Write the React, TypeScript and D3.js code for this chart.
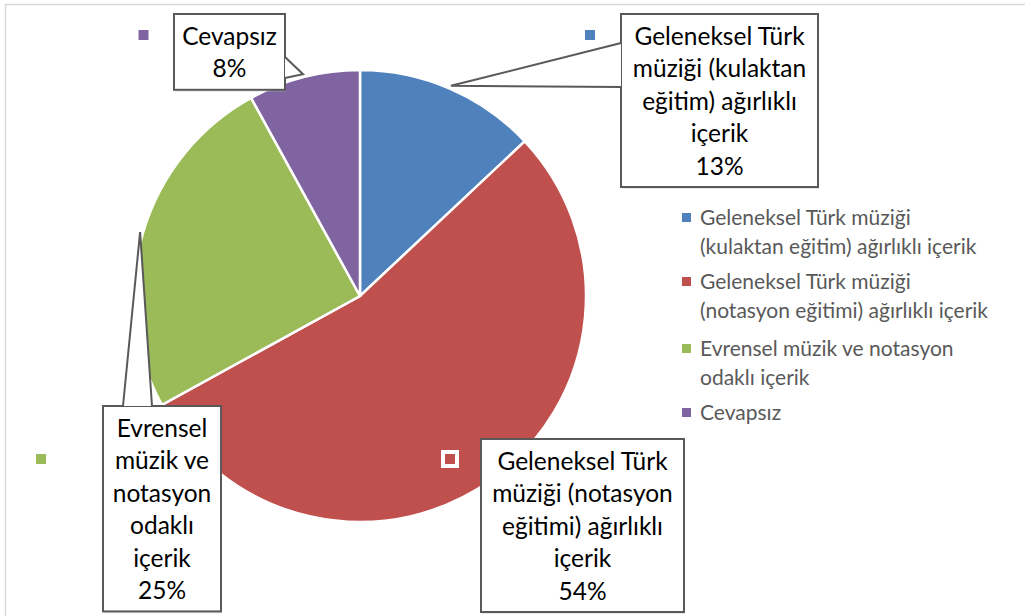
import React from "react";
import * as d3 from "d3";

const width = 1025;
const height = 616;

// pie data
const categories = [
  "Geleneksel Türk müziği (kulaktan eğitim) ağırlıklı içerik",
  "Geleneksel Türk müziği (notasyon eğitimi) ağırlıklı içerik",
  "Evrensel müzik ve notasyon odaklı içerik",
  "Cevapsız",
];
const values = [13, 54, 25, 8];
const colors = ["#4F81BD", "#C0504D", "#9BBB59", "#8064A2"];

// text as it wraps in the callouts and in the legend
const labelLines = [
  ["Geleneksel Türk", "müziği (kulaktan", "eğitim) ağırlıklı", "içerik"],
  ["Geleneksel Türk", "müziği (notasyon", "eğitimi) ağırlıklı", "içerik"],
  ["Evrensel", "müzik ve", "notasyon", "odaklı", "içerik"],
  ["Cevapsız"],
];
const legendLines = [
  ["Geleneksel Türk müziği", "(kulaktan eğitim) ağırlıklı içerik"],
  ["Geleneksel Türk müziği", "(notasyon eğitimi) ağırlıklı içerik"],
  ["Evrensel müzik ve notasyon", "odaklı içerik"],
  ["Cevapsız"],
];

// callout boxes (layout only): x, y, w, plus legend key position
const boxes = [
  { x: 621, y: 14, w: 197, key: [590, 35] },
  { x: 481, y: 439, w: 203, key: [450, 459] },
  { x: 103, y: 406, w: 118, key: [41, 459] },
  { x: 174, y: 14, w: 111, key: [143.5, 35] },
];

const cx = 360;
const cy = 296;
const radius = 226;
const lineH = 32.4;
const font = "Lato, 'Open Sans', sans-serif";

export default function App() {
  const pie = d3.pie<number>().sort(null).value((d) => d);
  const arcs = pie(values);
  const arc = d3.arc<d3.PieArcDatum<number>>().innerRadius(0).outerRadius(radius);
  const tipArc = d3
    .arc<d3.PieArcDatum<number>>()
    .innerRadius(radius + 3)
    .outerRadius(radius + 3);

  return (
    <div style={{ position: "absolute", left: 0, top: 0 }}>
      <svg width={width} height={height} style={{ display: "block", background: "#fff" }}>
        <rect x={5.5} y={4.5} width={width + 10} height={height + 10} fill="#fff" stroke="#d9d9d9" strokeWidth={1.5} />
        <g transform={`translate(${cx},${cy})`}>
          {arcs.map((a, i) => (
            <path key={i} d={arc(a) || ""} fill={colors[i]} stroke="#fff" strokeWidth={2.5} />
          ))}
        </g>

        {arcs.map((a, i) => {
          const b = boxes[i];
          const lines = [...labelLines[i], values[i] + "%"];
          const h = lines.length * lineH + 11;
          const [tx, ty] = tipArc.centroid(a);
          const tip: [number, number] = [cx + tx, cy + ty];
          // pointer goes from the box side nearest the slice to the tip
          let pointer = "";
          const inside = tip[0] > b.x && tip[0] < b.x + b.w && tip[1] > b.y && tip[1] < b.y + h;
          if (!inside) {
            if (tip[0] < b.x) {
              pointer = `M${b.x},${b.y + 29} L${tip[0]},${tip[1]} L${b.x},${b.y + 73}`;
            } else if (tip[0] > b.x + b.w) {
              pointer = `M${b.x + b.w},${b.y + 43} L${tip[0]},${tip[1]} L${b.x + b.w},${b.y + 64}`;
            } else if (tip[1] < b.y) {
              pointer = `M${b.x + 20},${b.y} L${tip[0]},${tip[1]} L${b.x + 49},${b.y}`;
            }
          }
          return (
            <g key={i}>
              <rect x={b.x + 1} y={b.y + 2} width={b.w} height={h} fill="#bfbfbf" opacity={0.35} />
              <rect x={b.x} y={b.y} width={b.w} height={h} fill="#fff" stroke="#595959" strokeWidth={2} />
              {pointer && <path d={pointer + " Z"} fill="#fff" stroke="none" />}
              {pointer && (
                <path d={pointer} fill="none" stroke="#595959" strokeWidth={2} strokeLinejoin="miter" />
              )}
              {lines.map((t, j) => (
                <text
                  key={j}
                  x={b.x + b.w / 2}
                  y={b.y + 31 + j * lineH}
                  textAnchor="middle"
                  fontFamily={font}
                  fontSize={24.5}
                  fill="#000"
                >
                  {t}
                </text>
              ))}
              <rect
                x={b.key[0] - 7}
                y={b.key[1] - 7}
                width={14}
                height={14}
                fill={colors[i]}
                stroke="#fff"
                strokeWidth={4}
              />
            </g>
          );
        })}

        <g>
          {categories.map((c, i) => {
            const y0 = [225, 289, 356, 420][i];
            return (
              <g key={c}>
                <rect x={682} y={y0 - 12} width={9} height={9} fill={colors[i]} />
                {legendLines[i].map((t, j) => (
                  <text key={j} x={700} y={y0 + j * 29} fontFamily={font} fontSize={21} fill="#595959">
                    {t}
                  </text>
                ))}
              </g>
            );
          })}
        </g>
      </svg>
    </div>
  );
}
